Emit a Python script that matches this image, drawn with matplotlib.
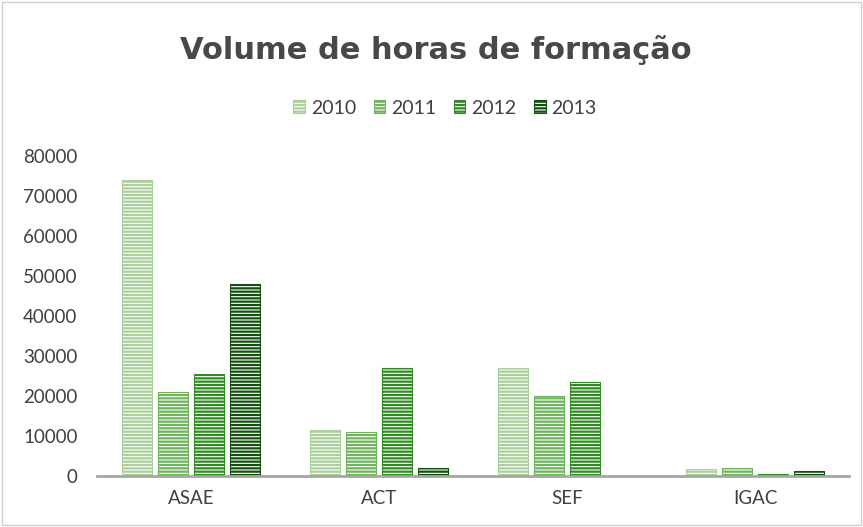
import numpy as np
import matplotlib as mpl
import matplotlib.pyplot as plt
from matplotlib.patches import Rectangle

mpl.rcParams['font.family'] = ['Lato', 'DejaVu Sans']
mpl.rcParams['hatch.linewidth'] = 1.6

# data
categories = ['ASAE', 'ACT', 'SEF', 'IGAC']
years = ['2010', '2011', '2012', '2013']
v2010 = [74000, 11500, 27000, 1750]
v2011 = [21000, 11000, 20000, 2000]
v2012 = [25500, 27000, 23500, 500]
v2013 = [48000, 2000, 0, 1250]
series = [v2010, v2011, v2012, v2013]

colors = ['#a9cf9a', '#6fb35c', '#2f8a22', '#14500f']

fig = plt.figure(figsize=(8.63, 5.27), dpi=100)
ax = fig.add_axes([97/863, 1 - 476/527, 752/863, 320/527])

x = np.arange(len(categories))
width = 0.16
pitch = 0.19
for i, (vals, c) in enumerate(zip(series, colors)):
    ax.bar(x + (i - 1.5)*pitch, vals, width, facecolor='white',
           edgecolor=c, hatch='-----', linewidth=0.8, label=years[i])

ax.set_xlim(-0.5, 3.5)
ax.set_ylim(0, 80000)
ax.set_yticks(np.arange(0, 90000, 10000))
ax.set_xticks(x)
ax.set_xticklabels(categories)
ax.tick_params(axis='both', length=0, labelsize=13.5, colors='#404040', pad=10)
ax.tick_params(axis='y', pad=14)
for s in ['top', 'right', 'left']:
    ax.spines[s].set_visible(False)
ax.spines['bottom'].set_color('#a6a6a6')
ax.spines['bottom'].set_linewidth(2)

fig.text(436/863, 1 - 50/527, 'Volume de horas de formação', ha='center', va='center',
         fontsize=22, color='#484848', fontweight='bold', family='DejaVu Sans')

ax.legend(loc='center', bbox_to_anchor=(445/863, 1 - 108/527),
          bbox_transform=fig.transFigure, ncol=4, frameon=False, fontsize=14,
          handlelength=0.6, handleheight=0.6, columnspacing=0.9, handletextpad=0.3,
          labelcolor='#404040')

fig.patches.append(Rectangle((0.002, 0.003), 0.996, 0.994, transform=fig.transFigure,
                             fill=False, edgecolor='#d0d0d0', linewidth=1))

fig.savefig('out.png', dpi=100)
